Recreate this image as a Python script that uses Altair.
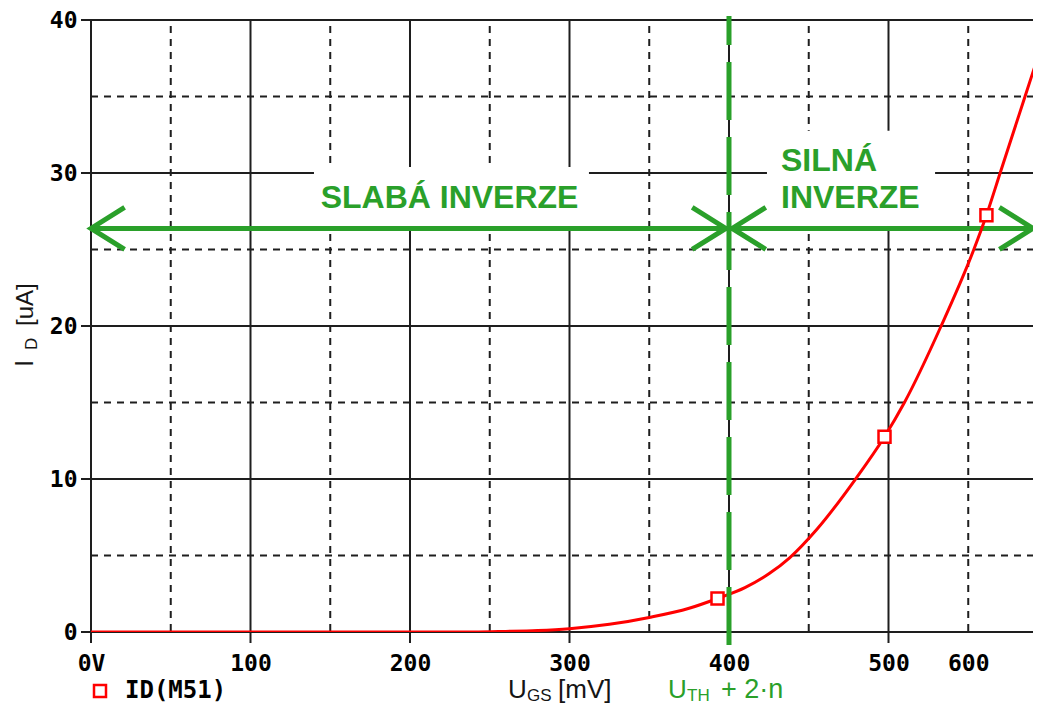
import altair as alt
import pandas as pd

# ---------------- data ----------------
ugs_mv = [0, 240, 260, 280, 300, 325, 350, 375, 392.8, 410, 425, 438, 455, 479,
          497.5, 510, 533, 553.5, 561.4, 570, 585.6, 595.6]
id_ua = [0, 0, 0.04, 0.1, 0.22, 0.5, 0.95, 1.55, 2.19, 2.9, 3.8, 4.85, 6.7, 9.95,
         12.76, 15.0, 20.0, 25.0, 27.24, 30.0, 35.0, 38.2]
marker_mv = [392.8, 497.5, 561.4]
marker_ua = [2.19, 12.76, 27.24]

x_tick_values = [0, 100, 200, 300, 400, 500, 550]
x_tick_labels = ["0V", "100", "200", "300", "400", "500", "600"]
y_tick_values = [0, 10, 20, 30, 40]

x_major = [0, 100, 200, 300, 400, 500]
x_minor = [50, 150, 250, 350, 450, 550]
y_major = [0, 10, 20, 30, 40]
y_minor = [5, 15, 25, 35]

uth_mv = [400]
arrow_from = [0]
arrow_to = [590.6]
arrow_ua = [26.38]
chev_right_mv = [398, 590.6]
chev_left_mv = [0, 402]

box_x1 = [139.8, 423.8]
box_x2 = [312.2, 529.2]
box_y1 = [26.4, 26.4]
box_y2 = [30.4, 32.76]

weak_text = ["SLABÁ INVERZE"]
weak_mv = [224.8]
weak_ua = [27.7]
strong_text = ["SILNÁ", "INVERZE"]
strong_mv = [432.6, 432.6]
strong_ua = [30.15, 27.73]

X_DOMAIN = [0, 590.6]
Y_DOMAIN = [0, 40]

# ---------------- styling ----------------
W, H = 942, 612
GRID = "#1e1e1e"
GREEN = "#2aa02a"
RED = "#ff0000"
TICKFONT = "DejaVu Sans Mono"
SANS = "Liberation Sans"

xs = alt.Scale(domain=X_DOMAIN, nice=False, zero=False)
ys = alt.Scale(domain=Y_DOMAIN, nice=False, zero=False)

label_expr = "".join(
    f"datum.value == {v} ? '{l}' : " for v, l in zip(x_tick_values, x_tick_labels)
) + "''"

x_axis = alt.Axis(values=x_tick_values, labelExpr=label_expr, ticks=False, domain=False,
                  grid=False, title=None, labelFont=TICKFONT, labelFontSize=23,
                  labelFontWeight="bold", labelColor="#000000", labelPadding=20,
                  labelFlush=False, labelOverlap=False)
y_axis = alt.Axis(values=y_tick_values, format="d", ticks=False, domain=False,
                  grid=False, title=None, labelFont=TICKFONT, labelFontSize=23,
                  labelFontWeight="bold", labelColor="#000000", labelPadding=14)


def X(field, **kw):
    return alt.X(field, scale=xs, axis=x_axis, **kw)


def Y(field, **kw):
    return alt.Y(field, scale=ys, axis=y_axis, **kw)


one = pd.DataFrame({"a": [0]})

v_major = alt.Chart(pd.DataFrame({"x": x_major})).mark_rule(
    color=GRID, strokeWidth=2).encode(
    x=X("x:Q"), y=alt.value(0), y2=alt.value(H + 11))

v_minor = alt.Chart(pd.DataFrame({"x": x_minor})).mark_rule(
    color=GRID, strokeWidth=2, strokeDash=[7, 6]).encode(
    x=X("x:Q"), y=alt.value(6), y2=alt.value(H))

h_major = alt.Chart(pd.DataFrame({"y": y_major})).mark_rule(
    color=GRID, strokeWidth=2).encode(
    y=Y("y:Q"), x=alt.value(-10), x2=alt.value(W))

h_minor = alt.Chart(pd.DataFrame({"y": y_minor})).mark_rule(
    color=GRID, strokeWidth=2, strokeDash=[7, 6]).encode(
    y=Y("y:Q"), x=alt.value(0), x2=alt.value(W))

boxes = alt.Chart(pd.DataFrame({"x1": box_x1, "x2": box_x2, "y1": box_y1, "y2": box_y2})).mark_rect(
    fill="white").encode(x=X("x1:Q"), x2="x2:Q", y=Y("y1:Q"), y2="y2:Q")

arrow = alt.Chart(pd.DataFrame({"x1": arrow_from, "x2": arrow_to, "y": arrow_ua})).mark_rule(
    color=GREEN, strokeWidth=5).encode(x=X("x1:Q"), x2="x2:Q", y=Y("y:Q"))

PATH_R = "M -1.6 -1 L 0 0 L -1.6 1"
PATH_L = "M 1.6 -1 L 0 0 L 1.6 1"

chev_r = alt.Chart(pd.DataFrame({"x": chev_right_mv, "y": arrow_ua * len(chev_right_mv)})).mark_point(
    shape=PATH_R, size=1764, filled=False, stroke=GREEN, strokeWidth=5, opacity=1,
    strokeCap="butt", strokeJoin="miter").encode(x=X("x:Q"), y=Y("y:Q"))

chev_l = alt.Chart(pd.DataFrame({"x": chev_left_mv, "y": arrow_ua * len(chev_left_mv)})).mark_point(
    shape=PATH_L, size=1764, filled=False, stroke=GREEN, strokeWidth=5, opacity=1,
    strokeCap="butt", strokeJoin="miter").encode(x=X("x:Q"), y=Y("y:Q"))

curve = alt.Chart(pd.DataFrame({"u": ugs_mv, "i": id_ua})).mark_line(
    color=RED, strokeWidth=3, interpolate="monotone", clip=True).encode(
    x=X("u:Q"), y=Y("i:Q"))

markers = alt.Chart(pd.DataFrame({"u": marker_mv, "i": marker_ua})).mark_point(
    shape="square", size=144, filled=True, fill="white", stroke=RED, strokeWidth=2.5,
    opacity=1).encode(x=X("u:Q"), y=Y("i:Q"))

uth = alt.Chart(pd.DataFrame({"x": uth_mv})).mark_rule(
    color=GREEN, strokeWidth=5, strokeDash=[58, 17]).encode(
    x=X("x:Q"), y=alt.value(H + 13), y2=alt.value(-4))

weak = alt.Chart(pd.DataFrame({"t": weak_text, "x": weak_mv, "y": weak_ua})).mark_text(
    font=SANS, fontSize=32, fontWeight="bold", color=GREEN, align="center",
    baseline="alphabetic").encode(x=X("x:Q"), y=Y("y:Q"), text="t:N")

strong = alt.Chart(pd.DataFrame({"t": strong_text, "x": strong_mv, "y": strong_ua})).mark_text(
    font=SANS, fontSize=32, fontWeight="bold", color=GREEN, align="left",
    baseline="alphabetic").encode(x=X("x:Q"), y=Y("y:Q"), text="t:N")


def label(txt, x, y, size, color, angle=0, font=SANS, weight="normal"):
    kw = dict(font=font, fontSize=size, color=color, align="left",
              baseline="alphabetic", text=txt, fontWeight=weight)
    if angle:
        kw["angle"] = angle
    return alt.Chart(one).mark_text(**kw).encode(x=alt.value(x), y=alt.value(y))


TITLE = "#151515"
titles = [
    # U_GS [mV]
    label("U", 417, 678, 26, TITLE),
    label("GS", 436, 681, 17, TITLE),
    label("[mV]", 467, 678, 26, TITLE),
    # U_TH + 2·n
    label("U", 577, 678, 26, GREEN),
    label("TH", 596, 681, 17, GREEN),
    label("+ 2·n", 630, 678, 27, GREEN),
    # I_D [uA] (rotated)
    label("I", -58, 347, 26, TITLE, angle=270),
    label("D", -54, 330, 17, TITLE, angle=270),
    label("[uA]", -58, 306, 24, TITLE, angle=270),
    # legend
    label("ID(M51)", 34, 678, 24, "#000000", font=TICKFONT, weight="bold"),
]

legend_sym = alt.Chart(one).mark_point(
    shape="square", size=144, filled=True, fill="white", stroke=RED, strokeWidth=2.5,
    opacity=1).encode(x=alt.value(9), y=alt.value(671))

chart = alt.layer(
    v_major, v_minor, h_major, h_minor, boxes, arrow, chev_r, chev_l,
    curve, markers, uth, weak, strong, legend_sym, *titles
).properties(
    width=W, height=H,
    autosize=alt.AutoSizeParams(type="none"),
    padding={"left": 83, "top": 12, "right": 0, "bottom": 73},
    background="white",
).configure_view(stroke=None)

chart.save("out.html", embed_options={"renderer": "svg", "actions": False})
